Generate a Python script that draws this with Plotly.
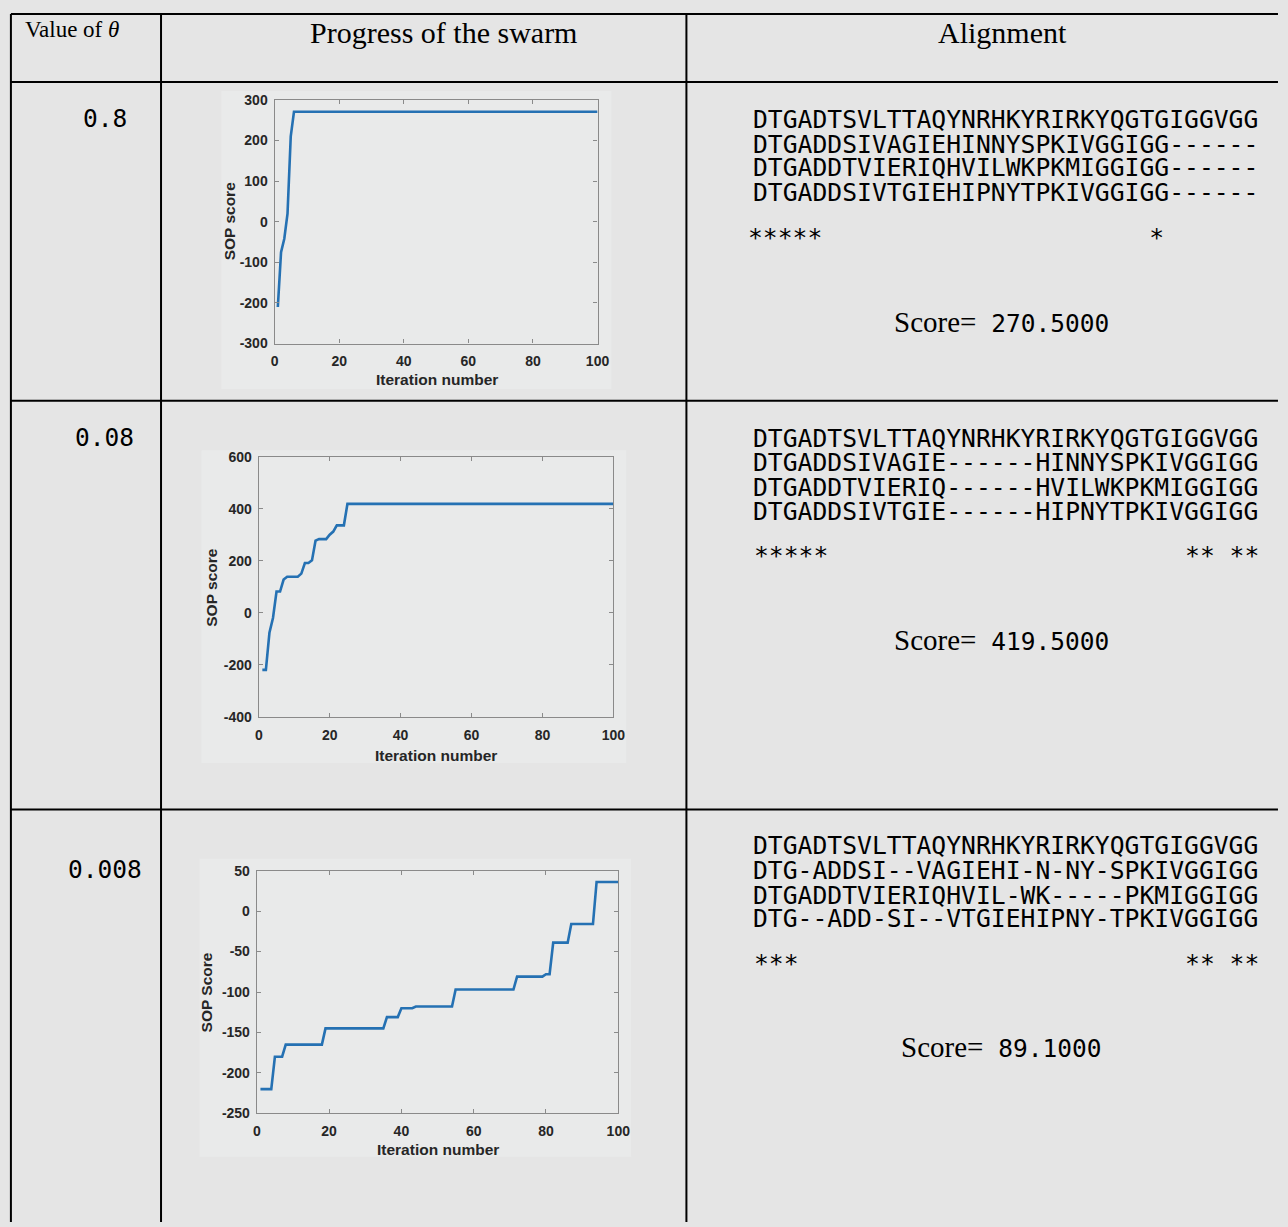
import plotly.graph_objects as go

W, H = 1288, 1227

# ---------------- data ----------------
theta_values = ["0.8", "0.08", "0.008"]

iter_1 = [1, 2, 3, 4, 5, 6, 100]
sop_1 = [-210, -75, -42, 20, 210, 270.5, 270.5]

iter_2 = [1, 2, 3, 4, 5, 6, 7, 8, 11, 12, 13, 14, 15, 16, 17, 19, 20, 21, 22, 24, 25, 100]
sop_2 = [-220, -220, -77, -20, 82, 82, 128, 139, 139, 151, 192, 192, 202, 278, 284, 284,
         301, 313, 337, 337, 419.5, 419.5]

iter_3 = [1, 4, 5, 7, 8, 18, 19, 35, 36, 39, 40, 43, 44, 54, 55, 71, 72, 79, 80, 81, 82,
          86, 87, 93, 94, 100]
sop_3 = [-220, -220, -180, -180, -165, -165, -145, -145, -131, -131, -120, -120, -118, -118,
         -97, -97, -81, -81, -78, -78, -39, -39, -16, -16, 36, 36]

x_ticks = [0, 20, 40, 60, 80, 100]
x_tick_text = ["0", "20", "40", "60", "80", "100"]
y_ticks_1 = [-300, -200, -100, 0, 100, 200, 300]
y_tick_text_1 = ["-300", "-200", "-100", "0", "100", "200", "300"]
y_ticks_2 = [-400, -200, 0, 200, 400, 600]
y_tick_text_2 = ["-400", "-200", "0", "200", "400", "600"]
y_ticks_3 = [-250, -200, -150, -100, -50, 0, 50]
y_tick_text_3 = ["-250", "-200", "-150", "-100", "-50", "0", "50"]
y_titles = ["SOP score", "SOP score", "SOP Score"]
x_title = "Iteration number"

alignments = [
    ["DTGADTSVLTTAQYNRHKYRIRKYQGTGIGGVGG",
     "DTGADDSIVAGIEHINNYSPKIVGGIGG------",
     "DTGADDTVIERIQHVILWKPKMIGGIGG------",
     "DTGADDSIVTGIEHIPNYTPKIVGGIGG------"],
    ["DTGADTSVLTTAQYNRHKYRIRKYQGTGIGGVGG",
     "DTGADDSIVAGIE------HINNYSPKIVGGIGG",
     "DTGADDTVIERIQ------HVILWKPKMIGGIGG",
     "DTGADDSIVTGIE------HIPNYTPKIVGGIGG"],
    ["DTGADTSVLTTAQYNRHKYRIRKYQGTGIGGVGG",
     "DTG-ADDSI--VAGIEHI-N-NY-SPKIVGGIGG",
     "DTGADDTVIERIQHVIL-WK-----PKMIGGIGG",
     "DTG--ADD-SI--VTGIEHIPNY-TPKIVGGIGG"],
]
consensus = [
    "*****                      *",
    "*****                        ** **",
    "***                          ** **",
]
scores = ["270.5000", "419.5000", "89.1000"]

# ---------------- layout helpers ----------------
def px(x):
    return x / W

def py(y):
    return 1 - y / H

BG = "#e5e5e5"
IMG_BG = "#e9eaea"
LINE_BLUE = "#2571b3"
AX_GREY = "#8a8a8a"
TICK_COL = "#262626"
MONO = "DejaVu Sans Mono"
SERIF = "Liberation Serif"
SANS = "Liberation Sans"

fig = go.Figure()

plots = [
    dict(x=iter_1, y=sop_1, ticks=y_ticks_1, ttext=y_tick_text_1, rng=[-300, 300],
         box=(274, 601, 93, 340), img=(220, 615, 84, 386), xt=(438, 376), yt=(228, 216)),
    dict(x=iter_2, y=sop_2, ticks=y_ticks_2, ttext=y_tick_text_2, rng=[-400, 600],
         box=(258, 617, 455, 718), img=(200, 630, 448, 765), xt=(437, 757), yt=(210, 587)),
    dict(x=iter_3, y=sop_3, ticks=y_ticks_3, ttext=y_tick_text_3, rng=[-250, 50],
         box=(256, 622, 874, 1120), img=(198, 635, 862, 1164), xt=(439, 1157), yt=(206, 997)),
]

shapes = []
annotations = []

for i, p in enumerate(plots, start=1):
    xa = "x" if i == 1 else f"x{i}"
    ya = "y" if i == 1 else f"y{i}"
    fig.add_trace(go.Scatter(x=p["x"], y=p["y"], mode="lines", xaxis=xa, yaxis=ya,
                             line=dict(color=LINE_BLUE, width=2.6), showlegend=False,
                             hoverinfo="skip"))
    x0, x1, y0, y1 = p["box"]
    axis_common = dict(showline=True, linecolor=AX_GREY, linewidth=1.2, mirror="allticks",
                       ticks="inside", ticklen=4, tickcolor=AX_GREY, tickwidth=1,
                       showgrid=False, zeroline=False,
                       tickfont=dict(family=SANS, size=14, color=TICK_COL, weight="bold"))
    fig.update_layout(**{
        ("xaxis" if i == 1 else f"xaxis{i}"): dict(
            domain=[px(x0), px(x1)], range=[0, 100], tickvals=x_ticks, ticktext=x_tick_text,
            anchor=ya, ticklabelstandoff=5, **axis_common),
        ("yaxis" if i == 1 else f"yaxis{i}"): dict(
            domain=[py(y1), py(y0)], range=p["rng"], tickvals=p["ticks"], ticktext=p["ttext"],
            anchor=xa, ticklabelstandoff=3, **axis_common),
    })
    ix0, ix1, iy0, iy1 = p["img"]
    shapes.append(dict(type="rect", xref="paper", yref="paper", x0=px(ix0), x1=px(ix1),
                       y0=py(iy1), y1=py(iy0), fillcolor=IMG_BG, line=dict(width=0),
                       layer="below"))
    annotations.append(dict(text=x_title, x=px(p["xt"][0]), y=py(p["xt"][1]),
                            xref="paper", yref="paper", showarrow=False,
                            xanchor="center", yanchor="middle",
                            font=dict(family=SANS, size=15.5, color=TICK_COL, weight="bold")))
    annotations.append(dict(text=y_titles[i - 1], x=px(p["yt"][0]), y=py(p["yt"][1]),
                            xref="paper", yref="paper", showarrow=False, textangle=-90,
                            xanchor="center", yanchor="middle",
                            font=dict(family=SANS, size=15.5, color=TICK_COL, weight="bold")))

# ---------------- table grid ----------------
def hline(y, xa, xb):
    shapes.append(dict(type="line", xref="paper", yref="paper", x0=px(xa), x1=px(xb),
                       y0=py(y), y1=py(y), line=dict(color="black", width=2), layer="above"))

def vline(x, ya, yb):
    shapes.append(dict(type="line", xref="paper", yref="paper", x0=px(x), x1=px(x),
                       y0=py(ya), y1=py(yb), line=dict(color="black", width=2), layer="above"))

for yy in [6, 75, 398, 812]:
    hline(yy, 7, 1290)
for xx in [7, 159, 691]:
    vline(xx, 6, 1230)

# ---------------- header texts ----------------
annotations.append(dict(text="Value of <i>θ</i>", x=px(19), y=py(22), xref="paper", yref="paper",
                        showarrow=False, xanchor="left", yanchor="middle",
                        font=dict(family=SERIF, size=23, color="black")))
annotations.append(dict(text="Progress of the swarm", x=px(445), y=py(25), xref="paper",
                        yref="paper", showarrow=False, xanchor="center", yanchor="middle",
                        font=dict(family=SERIF, size=30, color="black")))
annotations.append(dict(text="Alignment", x=px(1011), y=py(25), xref="paper", yref="paper",
                        showarrow=False, xanchor="center", yanchor="middle",
                        font=dict(family=SERIF, size=30, color="black")))

theta_y = [112, 435, 873]
align_y = [[113, 138, 162, 187], [436, 461, 486, 510], [849, 874, 899, 923]]
star_y = [233, 555, 968]
star_x = [751, 757, 757]
score_y = [318, 640, 1053]

for r in range(3):
    annotations.append(dict(text=theta_values[r], x=px(102), y=py(theta_y[r]), xref="paper",
                            yref="paper", showarrow=False, xanchor="center", yanchor="middle",
                            font=dict(family=MONO, size=24.5, color="black")))
    for k, seq in enumerate(alignments[r]):
        annotations.append(dict(text=seq, x=px(756), y=py(align_y[r][k]), xref="paper",
                                yref="paper", showarrow=False, xanchor="left", yanchor="middle",
                                font=dict(family=MONO, size=24.7, color="black")))
    annotations.append(dict(text=consensus[r].replace(" ", "&nbsp;"), x=px(star_x[r]),
                            y=py(star_y[r]), xref="paper", yref="paper", showarrow=False,
                            xanchor="left", yanchor="middle",
                            font=dict(family=MONO, size=24.7, color="black")))
    annotations.append(dict(
        text=(f'<span style="font-family:{SERIF};font-size:29px">Score=</span>'
              f'&nbsp;{scores[r]}'),
        x=px(1010), y=py(score_y[r]), xref="paper", yref="paper", showarrow=False,
        xanchor="center", yanchor="middle",
        font=dict(family=MONO, size=24.5, color="black")))

fig.update_layout(width=W, height=H, margin=dict(l=0, r=0, t=0, b=0),
                  paper_bgcolor=BG, plot_bgcolor=IMG_BG, shapes=shapes,
                  annotations=annotations, showlegend=False)

fig.write_html("out.html")
